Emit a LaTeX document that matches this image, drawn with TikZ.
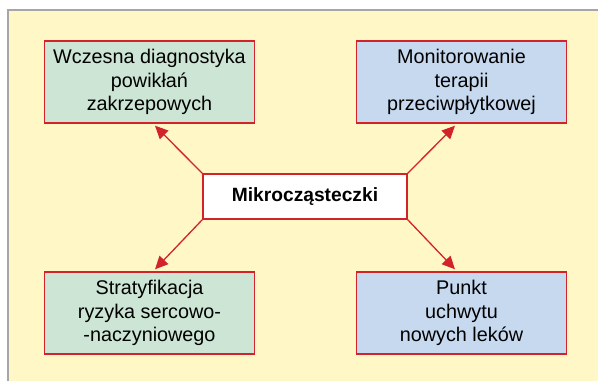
\documentclass[tikz,border=0pt]{standalone}
\usepackage{fontspec}
\setmainfont{Liberation Sans}
\usepackage{tikz}
\usetikzlibrary{arrows.meta,positioning,calc}
\definecolor{tlo}{HTML}{FFF8C6}
\definecolor{ramka}{HTML}{A6A6A6}
\definecolor{czerw}{HTML}{D2232A}
\definecolor{ziel}{HTML}{CCE5D4}
\definecolor{nieb}{HTML}{C7D9EF}
\tikzset{
  >={Triangle[length=13pt,width=12pt]},
  % pola
  pole/.style={draw=czerw,line width=1.4pt,align=center,inner sep=0pt,
               minimum width=210pt,minimum height=82pt,
               font=\fontsize{19.8}{23.5}\selectfont},
  pz/.style={pole,fill=ziel},
  pn/.style={pole,fill=nieb},
  srodek/.style={draw=czerw,line width=1.4pt,fill=white,inner sep=0pt,
               minimum width=204pt,minimum height=45pt,
               font=\fontsize{19.2}{23}\selectfont\bfseries},
  strz/.style={->,draw=czerw,line width=1.3pt},
}
\begin{document}
\begin{tikzpicture}[x=1pt,y=-1pt]
  \useasboundingbox (0,0) rectangle (598,381);
  \fill[tlo] (8,10) rectangle (598,381);
  \draw[ramka,line width=1.5pt] (8,381) -- (8,10) -- (598,10);
  \node[srodek] (mk) at (305,196.5) {Mikrocząsteczki};
  \node[pz] (wd) at (149.5,82) {Wczesna diagnostyka\\powikłań\\zakrzepowych};
  \node[pn] (mt) at (461.5,82) {Monitorowanie\\terapii\\przeciwpłytkowej};
  \node[pz] (st) at (149.5,313) {Stratyfikacja\\ryzyka sercowo-\\-naczyniowego};
  \node[pn] (pu) at (461.5,313) {Punkt\\uchwytu\\nowych leków};
  \draw[strz] (mk.north west) -- ([xshift=5.5pt,yshift=-2pt]wd.south);
  \draw[strz] (mk.north east) -- ([xshift=-6.5pt,yshift=-2pt]mt.south);
  \draw[strz] (mk.south west) -- ([xshift=5.5pt,yshift=2pt]st.north);
  \draw[strz] (mk.south east) -- ([xshift=-6.5pt,yshift=2pt]pu.north);
\end{tikzpicture}
\end{document}
